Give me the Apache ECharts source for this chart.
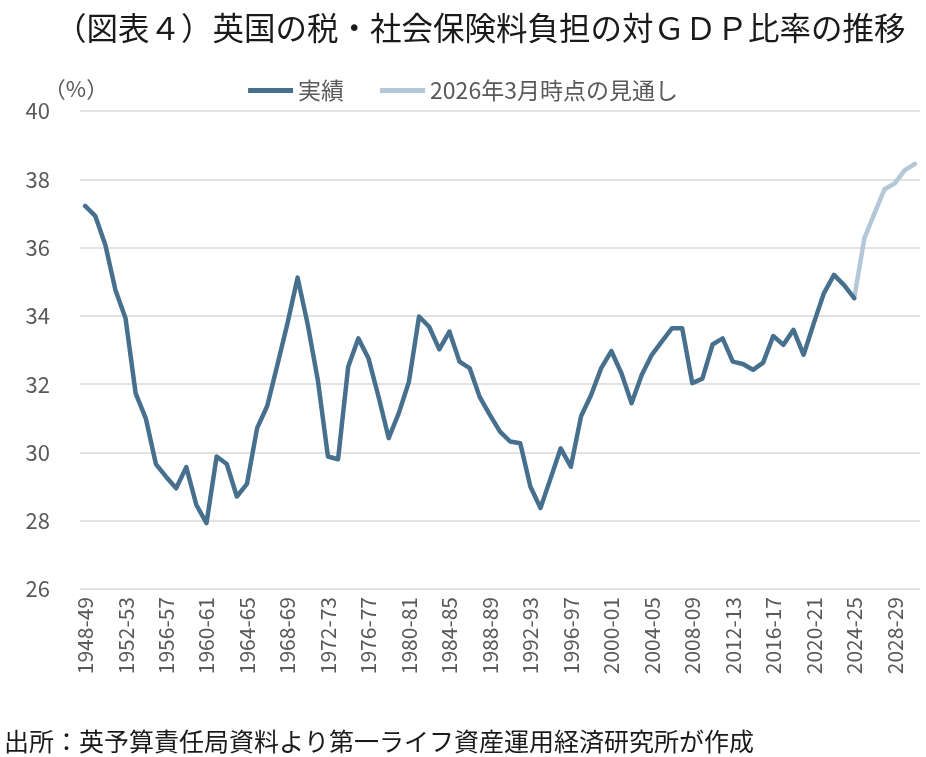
<!DOCTYPE html>
<html>
<head>
<meta charset="utf-8">
<script src="https://cdn.jsdelivr.net/npm/echarts@6/dist/echarts.min.js"></script>
<style>
  html, body { margin: 0; padding: 0; background: #fff; }
  #chart { width: 926px; height: 757px; }
</style>
</head>
<body>
<div id="chart"></div>
<script>
  // fiscal years 1948-49 .. 2030-31
  const firstYear = 1948;
  const lastYear = 2030;
  const years = [];
  for (let y = firstYear; y <= lastYear; y++) {
    years.push(y + "-" + String((y + 1) % 100).padStart(2, "0"));
  }

  // 実績 1948-49 .. 2024-25
  const actual = [
    37.22, 36.93, 36.08, 34.76, 33.93, 31.73, 31.0, 29.66, 29.29, 28.95,
    29.57, 28.46, 27.93, 29.88, 29.66, 28.71, 29.08, 30.71, 31.36, 32.56,
    33.78, 35.12, 33.75, 32.12, 29.88, 29.80, 32.51, 33.34, 32.76, 31.63,
    30.42, 31.15, 32.07, 33.98, 33.68, 33.02, 33.54, 32.66, 32.47, 31.62,
    31.1, 30.61, 30.32, 30.27, 29.0, 28.37, 29.24, 30.12, 29.58, 31.05,
    31.68, 32.47, 32.97, 32.32, 31.44, 32.27, 32.86, 33.25, 33.64, 33.64,
    32.03, 32.16, 33.16, 33.34, 32.66, 32.59, 32.42, 32.63, 33.41, 33.15,
    33.59, 32.86, 33.78, 34.66, 35.2, 34.9, 34.52
  ];

  // 2026年3月時点の見通し 2024-25 .. 2030-31
  const forecastStart = "2024-25";
  const forecast = [34.52, 36.27, 37.0, 37.71, 37.88, 38.27, 38.45];

  const yTicks = { min: 26, max: 40, step: 2 };

  const startIdx = years.indexOf(forecastStart);
  const actualData = years.map((_, i) => (i < actual.length ? actual[i] : null));
  const forecastData = years.map((_, i) =>
    i >= startIdx && i - startIdx < forecast.length ? forecast[i - startIdx] : null
  );

  const font = "'Noto Sans CJK JP', 'Noto Sans', sans-serif";
  const gray = "#595959";

  const myChart = echarts.init(document.getElementById("chart"));
  const option = {
    backgroundColor: "#ffffff",
    textStyle: { fontFamily: font },
    title: {
      text: "（図表４）英国の税・社会保険料負担の対ＧＤＰ比率の推移",
      left: 50,
      top: 7,
      textStyle: { fontSize: 31.5, fontWeight: "normal", color: "#1a1a1a", fontFamily: font },
    },
    legend: {
      top: 74,
      left: "center",
      itemWidth: 45,
      itemHeight: 5,
      itemGap: 36,
      icon: "rect",
      textStyle: { fontSize: 23, color: gray, fontFamily: font },
      data: ["実績", "2026年3月時点の見通し"],
    },
    graphic: [
      {
        type: "text",
        left: 4,
        bottom: 3,
        style: {
          text: "出所：英予算責任局資料より第一ライフ資産運用経済研究所が作成",
          fontSize: 25,
          fill: "#1a1a1a",
          fontFamily: font,
        },
      },
    ],
    grid: {
      left: 80,
      right: 6,
      top: 111,
      bottom: 168,
    },
    xAxis: {
      type: "category",
      data: years,
      boundaryGap: true,
      axisLine: { show: false },
      axisTick: { show: false },
      axisLabel: {
        interval: 3,
        rotate: 90,
        margin: 8,
        fontSize: 21,
        color: gray,
        fontFamily: font,
      },
    },
    yAxis: {
      type: "value",
      min: yTicks.min,
      max: yTicks.max,
      interval: yTicks.step,
      name: "（%）",
      nameLocation: "end",
      nameGap: 10,
      nameTextStyle: { fontSize: 22, color: gray, fontFamily: font, padding: [0, 0, 0, -8] },
      axisLine: { show: false },
      axisTick: { show: false },
      axisLabel: { fontSize: 22, color: gray, margin: 30, fontFamily: font },
      splitLine: { lineStyle: { color: "#d9d9d9", width: 1.5 } },
    },
    series: [
      {
        name: "実績",
        type: "line",
        data: actualData,
        symbol: "none",
        color: "#46708e",
        lineStyle: { width: 4.5, color: "#46708e", cap: "round", join: "round" },
        z: 3,
      },
      {
        name: "2026年3月時点の見通し",
        type: "line",
        data: forecastData,
        symbol: "none",
        color: "#b3c7d7",
        lineStyle: { width: 4.5, color: "#b3c7d7", cap: "round", join: "round" },
        z: 2,
      },
    ],
  };

  option && myChart.setOption(option);
</script>
</body>
</html>
